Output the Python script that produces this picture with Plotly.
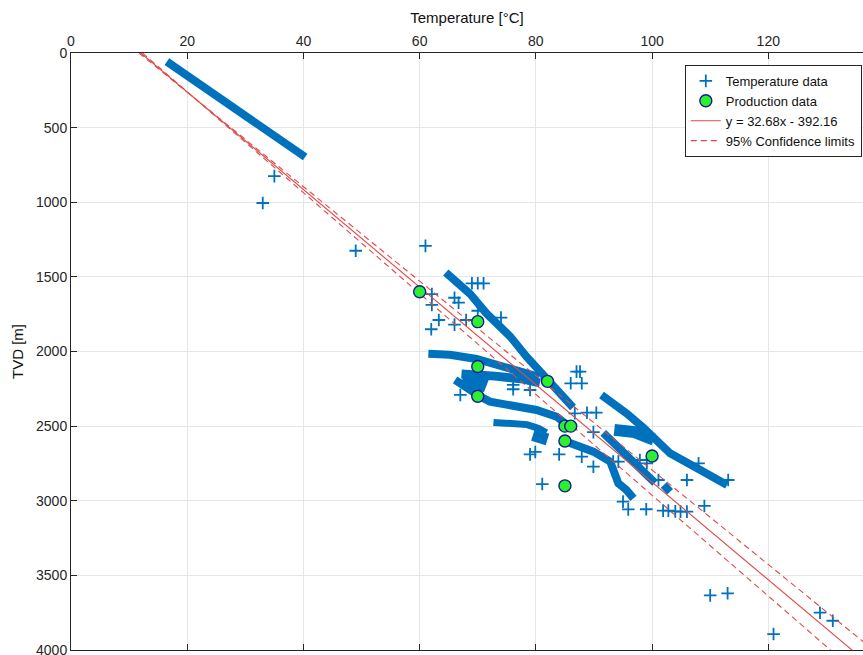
import plotly.graph_objects as go

# ---- regression of TVD on temperature ----
fit_slope = 32.68
fit_intercept = -392.16
fit_T = [0.0, 140.0]

# 95% confidence limits (temperature at TVD 0 m and 4000 m)
ci_tvd = [0, 4000]
ci_upper_T = [11.7, 138.1]
ci_lower_T = [12.3, 130.7]

# ---- continuous temperature logs (temperature °C, TVD m) ----
log_a_T = [16.5, 40.3]
log_a_tvd = [58, 697]

log_b_T = [64.5, 66.5, 68.7, 71.5, 75.6, 78.4, 81.9, 84.2, 86.4]
log_b_tvd = [1470, 1545, 1615, 1745, 1900, 2035, 2180, 2270, 2375]

log_c_T = [61.5, 65.2, 69.8, 73.8, 78.4, 80.5]
log_c_tvd = [2015, 2022, 2050, 2090, 2140, 2170]

log_d_T = [67.2, 70.0, 73.0, 77.8, 80.7]
log_d_tvd = [2150, 2155, 2165, 2185, 2210]

log_e_T = [66.1, 68.2, 70.4, 72.1, 76.1, 80.1, 83.6, 85.0]
log_e_tvd = [2190, 2250, 2302, 2336, 2358, 2392, 2437, 2481]

log_f_T = [72.7, 76.0, 78.5, 80.5, 81.8]
log_f_tvd = [2475, 2480, 2490, 2515, 2545]

log_g_T = [85.3, 87.6, 89.9, 92.8, 93.6, 94.2, 95.6, 96.8]
log_g_tvd = [2604, 2638, 2671, 2738, 2816, 2883, 2928, 2984]

log_h_T = [91.6, 94.1, 97.6, 100.5]
log_h_tvd = [2546, 2640, 2760, 2881]

log_h2_T = [102.0, 103.1]
log_h2_tvd = [2894, 2939]

log_i_T = [91.3, 93.5, 95.6, 98.5, 101.0, 103.1, 108.3, 112.9]
log_i_tvd = [2291, 2350, 2414, 2510, 2600, 2682, 2794, 2894]

# denser clusters of readings
blob_d_T = [67.5, 71.5]
blob_d_tvd = [2170, 2230]
blob_f_T = [79.5, 82.0]
blob_f_tvd = [2560, 2590]
blob_j_T = [93.5, 97.0, 100.3]
blob_j_tvd = [2525, 2540, 2590]

# ---- isolated temperature readings ----
temp_T = [35, 33, 49, 61,
          69, 70, 71,
          62.1, 62.1, 66, 66.7, 63.3, 62, 66, 68, 70, 74,
          87, 87.6, 86, 87.9, 76.1, 76.1, 79, 67,
          86.7, 88.8, 90.4, 89.9,
          89.9, 87.9, 84, 79, 79.9, 81.1,
          93.3, 94.2, 97.9, 99.1, 101.1, 106, 108, 113.1,
          95, 95.9, 99, 101.9, 102.8, 104, 104.9, 106, 109,
          110, 113, 128.9, 131.1, 120.9]
temp_tvd = [825, 1005, 1325, 1292,
            1543, 1543, 1543,
            1615, 1688, 1640, 1673, 1789, 1851, 1820, 1789, 1727, 1773,
            2135, 2135, 2213, 2213, 2224, 2253, 2258, 2291,
            2414, 2410, 2410, 2540,
            2772, 2705, 2689, 2689, 2673, 2888,
            2738, 2738, 2727, 2749, 2861, 2861, 2749, 2861,
            3006, 3058, 3057, 3066, 3066, 3071, 3073, 3073, 3035,
            3634, 3620, 3750, 3804, 3893]

# ---- production data ----
prod_T = [60, 70, 70, 82, 70, 85, 86, 85, 100, 85]
prod_tvd = [1600, 1800, 2100, 2200, 2300, 2500, 2500, 2600, 2700, 2900]

# ---- axis ticks ----
x_ticks = [0, 20, 40, 60, 80, 100, 120]
y_ticks = [0, 500, 1000, 1500, 2000, 2500, 3000, 3500, 4000]

BLUE = "#0072BD"
RED = "rgb(226,72,72)"

fig = go.Figure()

logs = [
    (log_a_T, log_a_tvd, 8),
    (log_b_T, log_b_tvd, 8),
    (log_c_T, log_c_tvd, 8),
    (log_d_T, log_d_tvd, 9),
    (log_e_T, log_e_tvd, 8),
    (log_f_T, log_f_tvd, 7),
    (log_g_T, log_g_tvd, 8),
    (log_h_T, log_h_tvd, 8),
    (log_h2_T, log_h2_tvd, 8),
    (log_i_T, log_i_tvd, 8),
    (blob_d_T, blob_d_tvd, 14),
    (blob_f_T, blob_f_tvd, 12),
    (blob_j_T, blob_j_tvd, 12),
]
for xs, ys, w in logs:
    fig.add_trace(go.Scatter(
        x=xs, y=ys, mode="lines", showlegend=False, hoverinfo="skip",
        line=dict(color=BLUE, width=w),
    ))

fig.add_trace(go.Scatter(
    x=temp_T, y=temp_tvd, mode="markers", name="Temperature data",
    legendrank=1,
    marker=dict(symbol="cross-thin", size=9, color=BLUE,
                line=dict(color=BLUE, width=1.8)),
))

fit_tvd = [fit_slope * t + fit_intercept for t in fit_T]
fig.add_trace(go.Scatter(
    x=fit_T, y=fit_tvd, mode="lines", legendrank=3,
    name=f"y = {fit_slope:.2f}x - {abs(fit_intercept):.2f}",
    line=dict(color=RED, width=1.1),
))

fig.add_trace(go.Scatter(
    x=ci_upper_T, y=ci_tvd, mode="lines", name="95% Confidence limits",
    legendgroup="ci", legendrank=4,
    line=dict(color=RED, width=1.1, dash="6px,4px"),
))
fig.add_trace(go.Scatter(
    x=ci_lower_T, y=ci_tvd, mode="lines", name="95% Confidence limits",
    legendgroup="ci", showlegend=False,
    line=dict(color=RED, width=1.1, dash="6px,4px"),
))

fig.add_trace(go.Scatter(
    x=prod_T, y=prod_tvd, mode="markers", name="Production data",
    legendrank=2,
    marker=dict(symbol="circle", size=12, color="#2cf02c",
                line=dict(color="#101a9a", width=1.4)),
))

AX = "#262626"
GRID = "#e6e6e6"

fig.update_layout(
    width=863, height=655,
    margin=dict(l=71, r=0, t=53, b=5),
    plot_bgcolor="white", paper_bgcolor="white",
    font=dict(family="Liberation Sans, Arial, sans-serif", size=14, color=AX),
    legend=dict(
        x=0.9985, y=0.98, xanchor="right", yanchor="top",
        bgcolor="white", bordercolor=AX, borderwidth=1,
        font=dict(size=13, color="#111111"),
        itemwidth=30, tracegroupgap=0,
    ),
    xaxis=dict(
        side="top", range=[0, 136.3], automargin=False,
        tickmode="array", tickvals=x_ticks,
        ticks="inside", ticklen=6, tickcolor=AX, tickwidth=1,
        showline=True, linecolor=AX, linewidth=1, mirror="ticks",
        showgrid=True, gridcolor=GRID, gridwidth=1, zeroline=False,
        tickfont=dict(size=14, color=AX),
        title=dict(text="Temperature [°C]", font=dict(size=15, color="#111111"), standoff=6),
    ),
    yaxis=dict(
        range=[4000, 0], automargin=False,
        tickmode="array", tickvals=y_ticks,
        ticks="inside", ticklen=6, tickcolor=AX, tickwidth=1,
        showline=True, linecolor=AX, linewidth=1,
        showgrid=True, gridcolor=GRID, gridwidth=1, zeroline=False,
        ticklabeloverflow="allow",
        tickfont=dict(size=14, color=AX),
        title=dict(text="TVD [m]", font=dict(size=15, color="#111111"), standoff=8),
    ),
)

fig.write_html("out.html")
